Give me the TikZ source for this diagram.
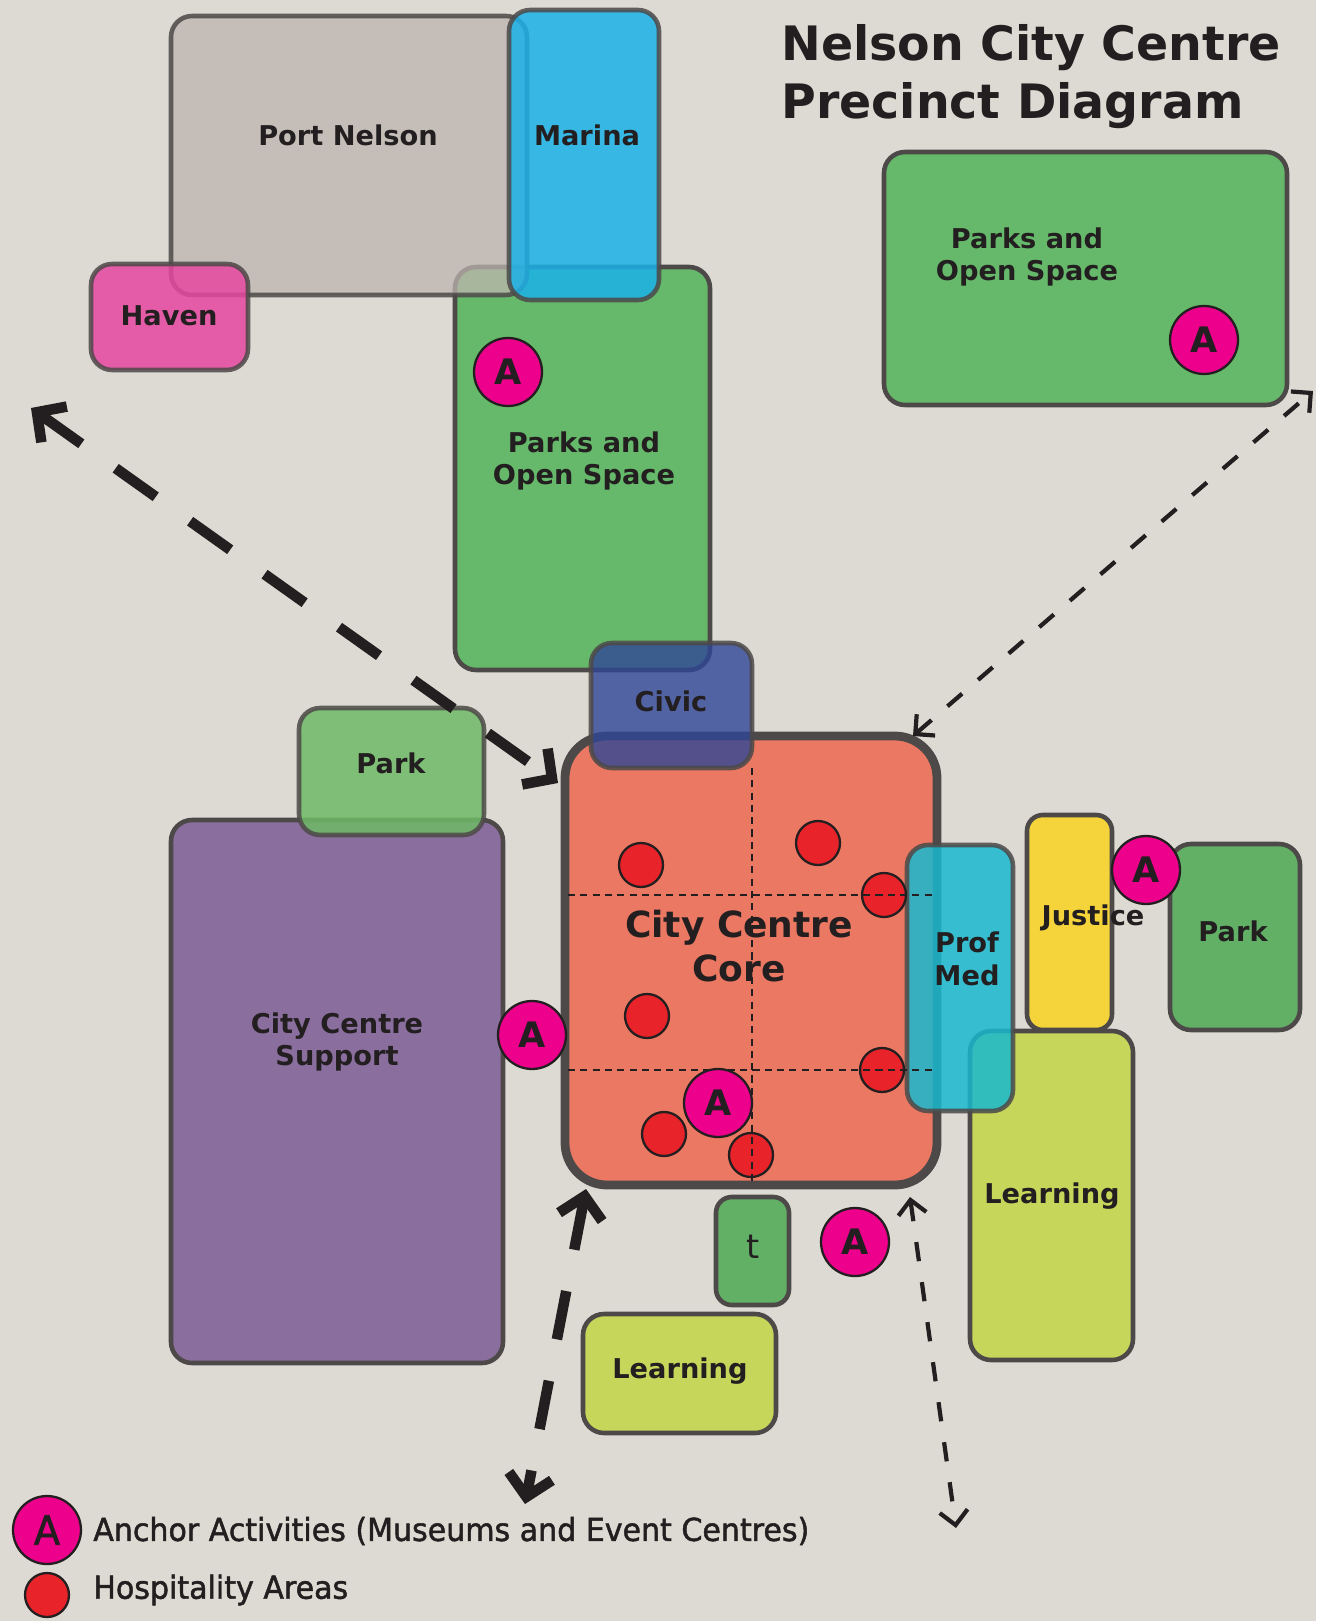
\documentclass[tikz,border=0pt]{standalone}
\usepackage{fontspec}
\setmainfont{DejaVu Sans}
\newfontfamily\legendfont[FakeStretch=0.95,FakeBold=1.5]{DejaVu Sans}
\usetikzlibrary{arrows.meta}

\begin{document}
\begin{tikzpicture}[
    x=0.02cm,
    y=-0.02cm,
    zone/.style={
        draw=zoneline,
        line width=2.6pt,
        rounded corners=12pt
    },
    seezone/.style={
        zone,
        fill opacity=0.85,
        draw opacity=0.85
    },
    zonelabel/.style={
        font=\fontsize{15.5}{18.7}\selectfont\bfseries,
        text=ink,
        align=center,
        inner sep=0pt
    },
    anchorpt/.style={
        circle,
        draw=ink,
        line width=1.3pt,
        fill=anchorpink,
        minimum size=1.36cm,
        inner sep=0pt,
        font=\fontsize{20}{20}\selectfont\bfseries,
        text=ink
    },
    hospdot/.style={
        circle,
        draw=ink,
        line width=1.3pt,
        fill=hospred,
        minimum size=0.88cm,
        inner sep=0pt
    },
    gridline/.style={
        draw=ink,
        line width=1.4pt,
        dash pattern=on 4pt off 3pt
    },
    bigflow/.style={
        draw=ink,
        line width=6pt,
        dash pattern=on 28pt off 24pt,
        {Straight Barb[length=12pt,width=25pt]}-{Straight Barb[length=12pt,width=25pt]}
    },
    thinflow/.style={
        draw=ink,
        line width=2.4pt,
        dash pattern=on 11pt off 12pt,
        {Straight Barb[length=8pt,width=16pt]}-{Straight Barb[length=8pt,width=16pt]}
    }
]

% Define colors
\definecolor{paper}{RGB}{221,218,211}
\definecolor{ink}{RGB}{35,31,32}
\definecolor{zoneline}{RGB}{77,73,72}
\definecolor{parkgreen}{RGB}{102,185,107}
\definecolor{portgrey}{RGB}{190,181,175}
\definecolor{havenpink}{RGB}{230,71,160}
\definecolor{marinablue}{RGB}{27,177,232}
\definecolor{civicblue}{RGB}{47,70,151}
\definecolor{corered}{RGB}{235,120,98}
\definecolor{supportpurple}{RGB}{138,110,158}
\definecolor{smallpark}{RGB}{110,186,102}
\definecolor{profcyan}{RGB}{25,185,207}
\definecolor{justiceyellow}{RGB}{244,212,58}
\definecolor{learnlime}{RGB}{198,214,90}
\definecolor{anchorpink}{RGB}{236,0,140}
\definecolor{hospred}{RGB}{232,35,42}

% Background
\fill[paper] (0,0) rectangle (1316,1621);
\useasboundingbox (0,0) rectangle (1316,1621);

% ============ HARBOUR SECTION ============
\draw[zone, fill=parkgreen] (455,267) rectangle (710,670);
\draw[seezone, fill=portgrey, fill opacity=0.75] (171,16) rectangle (527,295);
\draw[seezone, fill=havenpink] (91,264) rectangle (248,370);
\draw[seezone, fill=marinablue] (509,10) rectangle (659,300);
\draw[zone, fill=parkgreen] (884,152) rectangle (1287,405);

\node[zonelabel] (portnelson) at (348,135) {Port Nelson};
\node[zonelabel] (marina) at (587,135) {Marina};
\node[zonelabel] (haven) at (169,316) {Haven};
\node[zonelabel] (parksmid) at (584,461) {Parks and\\Open Space};
\node[zonelabel] (parksne) at (1027,257) {Parks and\\Open Space};

% Title
\node[font=\fontsize{27}{33}\selectfont\bfseries, text=ink, align=left, anchor=west, inner sep=0pt]
    (title) at (781,77) {Nelson City Centre\\Precinct Diagram};

% ============ CORE SECTION ============
\draw[zone, fill=corered, line width=5pt, rounded corners=24pt] (565,736) rectangle (937,1185);
\draw[seezone, fill=civicblue, fill opacity=0.8] (591,643) rectangle (752,768);
\node[zonelabel] (civic) at (671,701) {Civic};

% ============ WEST SECTION ============
\draw[zone, fill=supportpurple] (171,820) rectangle (503,1363);
\draw[seezone, fill=smallpark] (299,708) rectangle (484,835);
\node[zonelabel] (parkwest) at (391,763) {Park};
\node[zonelabel] (support) at (337,1042) {City Centre\\Support};

% ============ EAST SECTION ============
\draw[zone, fill=learnlime] (970,1031) rectangle (1133,1360);
\draw[zone, fill=justiceyellow, rounded corners=9pt] (1027,815) rectangle (1112,1030);
\draw[zone, fill=parkgreen!95!black] (1170,844) rectangle (1300,1030);
\draw[seezone, fill=profcyan] (907,845) rectangle (1013,1111);
\node[zonelabel] (learneast) at (1052,1196) {Learning};
\node[zonelabel] (parkeast) at (1233,931) {Park};
\node[zonelabel] (profmed) at (967,959) {Prof\\Med};

% ============ SOUTH SECTION ============
\draw[zone, fill=parkgreen!95!black, rounded corners=9pt] (716,1197) rectangle (789,1305);
\draw[zone, fill=learnlime] (583,1314) rectangle (776,1433);
\node[zonelabel, font=\fontsize{19}{19}\selectfont\mdseries] (tbox) at (753,1247) {t};
\node[zonelabel] (learnsouth) at (680,1371) {Learning};

% Hospitality areas
\foreach \hx/\hy [count=\i] in {641/865, 818/843, 884/895, 647/1016, 882/1070, 664/1134, 751/1155} {
    \node[hospdot] (hosp\i) at (\hx,\hy) {};
}

% Grid inside the core
\draw[gridline] (752,768) -- (752,1183);
\draw[gridline] (568,895) -- (936,895);
\draw[gridline] (568,1070) -- (936,1070);
\node[zonelabel, font=\fontsize{20.5}{25.5}\selectfont\bfseries] (corelabel) at (739,946) {City Centre\\Core};
\node[zonelabel] (justice) at (1093,918) {Justice};

% Anchor activities
\node[anchorpt] (anchorpark) at (508,372) {A};
\node[anchorpt] (anchorne) at (1204,340) {A};
\node[anchorpt] (anchorwest) at (532,1035) {A};
\node[anchorpt] (anchorcore) at (718,1103) {A};
\node[anchorpt] (anchoreast) at (1146,870) {A};
\node[anchorpt] (anchorsouth) at (855,1242) {A};

% ============ FLOW ARROWS ============
\coordinate (corenw) at (558,783);
\coordinate (corene) at (913,736);
\coordinate (coresw) at (586,1189);
\coordinate (corese) at (910,1197);
\coordinate (outnw) at (31,408);
\coordinate (outne) at (1313,391);
\coordinate (outsw) at (525,1504);
\coordinate (outse) at (956,1528);

\draw[bigflow] (outnw) -- (corenw);
\draw[thinflow] (corene) -- (outne);
\draw[bigflow] (coresw) -- (outsw);
\draw[thinflow] (corese) -- (outse);

% ============ LEGEND ============
\node[anchorpt, font=\legendfont\fontsize{23}{23}\selectfont] (legendanchor) at (47,1530) {A};
\node[hospdot] (legenddot) at (47,1595) {};
\node[anchor=west, inner sep=0pt, text=ink, font=\legendfont\fontsize{18}{18}\selectfont]
    (legendanchortext) at (93,1531) {Anchor Activities (Museums and Event Centres)};
\node[anchor=west, inner sep=0pt, text=ink, font=\legendfont\fontsize{18}{18}\selectfont]
    (legenddottext) at (93,1590) {Hospitality Areas};

\end{tikzpicture}
\end{document}
